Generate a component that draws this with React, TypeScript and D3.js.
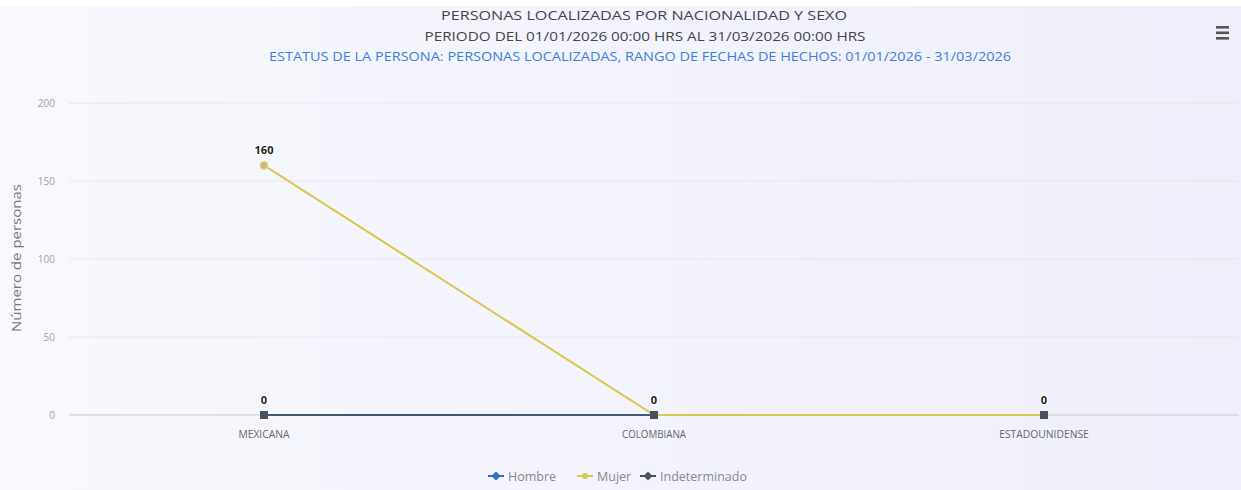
import React from "react";
import * as d3 from "d3";

const categories = ["MEXICANA", "COLOMBIANA", "ESTADOUNIDENSE"];
const seriesNames = ["Hombre", "Mujer", "Indeterminado"];
const hombre = [0, 0, 0];
const mujer = [160, 0, 0];
const indeterminado = [0, 0, 0];
const yTicks = [0, 50, 100, 150, 200];

const W = 1241;
const H = 490;

export default function App() {
  const x = d3.scalePoint<string>().domain(categories).range([69, 1239]).padding(0.5);
  const y = d3.scaleLinear().domain([0, 200]).range([415, 103]);
  const line = d3
    .line<number>()
    .x((_, i) => x(categories[i]) as number)
    .y((d) => y(d));

  const font = "'Open Sans', 'DejaVu Sans', sans-serif";
  const colors = { Hombre: "#2f6fc4", Mujer: "#d8c64e", Indeterminado: "#4b515c" };

  return (
    <div style={{ position: "absolute", left: 0, top: 0, width: W, height: H }}>
      <svg width={W} height={H} style={{ display: "block" }}>
        <defs>
          <linearGradient id="bg" x1="0" x2="1" y1="0" y2="0">
            <stop offset="0" stopColor="#f8f8fd" />
            <stop offset="0.5" stopColor="#f2f3fc" />
            <stop offset="1" stopColor="#efeffb" />
          </linearGradient>
        </defs>
        <rect x={0} y={0} width={W} height={H} fill="#ffffff" />
        <rect x={0} y={6} width={W} height={H - 6} fill="url(#bg)" />

        {/* titles */}
        <text x={644} y={20} textAnchor="middle" fontFamily={font} fontSize={12} fill="#444" textLength={406} lengthAdjust="spacingAndGlyphs">
          PERSONAS LOCALIZADAS POR NACIONALIDAD Y SEXO
        </text>
        <text x={645} y={41} textAnchor="middle" fontFamily={font} fontSize={12} fill="#444" textLength={441} lengthAdjust="spacingAndGlyphs">
          PERIODO DEL 01/01/2026 00:00 HRS AL 31/03/2026 00:00 HRS
        </text>
        <text x={640} y={61} textAnchor="middle" fontFamily={font} fontSize={12} fill="#3d7fe0" textLength={742} lengthAdjust="spacingAndGlyphs">
          ESTATUS DE LA PERSONA: PERSONAS LOCALIZADAS, RANGO DE FECHAS DE HECHOS: 01/01/2026 - 31/03/2026
        </text>

        {/* menu icon */}
        {[0, 1, 2].map((i) => (
          <rect key={i} x={1216} y={26 + i * 5.5} width={13} height={2.6} fill="#555" />
        ))}

        {/* grid */}
        {yTicks.map((t) => (
          <g key={t}>
            <line x1={69} x2={1239} y1={y(t)} y2={y(t)} stroke={t === 0 ? "#c8c9d6" : "#e6e6f0"} strokeWidth={1} />
            <text x={55} y={y(t) + 3.5} textAnchor="end" fontFamily={font} fontSize={10} fill="#a0a0a0">
              {t}
            </text>
          </g>
        ))}

        <text transform={`translate(21,258) rotate(-90)`} textAnchor="middle" fontFamily={font} fontSize={12} fill="#777" textLength={148} lengthAdjust="spacingAndGlyphs">
          Número de personas
        </text>

        {/* x labels */}
        {categories.map((c) => (
          <text key={c} x={x(c)} y={438} textAnchor="middle" fontFamily={font} fontSize={10.5} fill="#666" textLength={c.length * 6.4} lengthAdjust="spacingAndGlyphs">
            {c}
          </text>
        ))}

        {/* lines */}
        <path d={line(hombre) || ""} fill="none" stroke={colors.Hombre} strokeWidth={2} />
        <path d={line(indeterminado) || ""} fill="none" stroke={colors.Indeterminado} strokeWidth={1.5} />
        <path d={line(mujer) || ""} fill="none" stroke={colors.Mujer} strokeWidth={2} />

        {/* markers */}
        {mujer.map((v, i) =>
          v > 0 ? (
            <circle key={i} cx={x(categories[i])} cy={y(v)} r={4} fill="#c9bf73" stroke="#e2d98a" strokeWidth={1} />
          ) : null
        )}
        {indeterminado.map((v, i) => (
          <rect key={i} x={(x(categories[i]) as number) - 4} y={y(v) - 4} width={8} height={8} fill={colors.Indeterminado} />
        ))}

        {/* data labels */}
        {mujer.map((v, i) =>
          v > 0 ? (
            <text key={"m" + i} x={x(categories[i])} y={y(v) - 11} textAnchor="middle" fontFamily={font} fontSize={11} fontWeight="bold" fill="#222" stroke="#fff" strokeWidth={2.5} paintOrder="stroke">
              {v}
            </text>
          ) : null
        )}
        {indeterminado.map((v, i) => (
          <text key={"i" + i} x={x(categories[i])} y={y(v) - 11} textAnchor="middle" fontFamily={font} fontSize={11} fontWeight="bold" fill="#222" stroke="#fff" strokeWidth={2.5} paintOrder="stroke">
            {v}
          </text>
        ))}

        {/* legend */}
        {seriesNames.map((s, i) => {
          const lx = [488, 577, 640][i];
          const c = (colors as any)[s];
          return (
            <g key={s} transform={`translate(${lx},476)`}>
              <line x1={0} x2={16} y1={0} y2={0} stroke={c} strokeWidth={2} />
              {s === "Mujer" ? (
                <circle cx={8} cy={0} r={3} fill={c} />
              ) : (
                <path d="M8,-4.5 L12.5,0 L8,4.5 L3.5,0 Z" fill={c} />
              )}
              <text x={20} y={4.5} fontFamily={font} fontSize={12.5} fill="#888">
                {s}
              </text>
            </g>
          );
        })}
      </svg>
    </div>
  );
}
